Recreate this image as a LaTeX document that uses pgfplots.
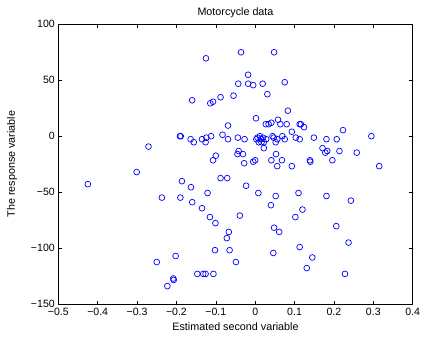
\documentclass[border=0pt]{standalone}
\usepackage{fontspec}
\setmainfont{Liberation Sans}
\usepackage{pgfplots}
\pgfplotsset{compat=1.18}
\begin{document}
\begin{tikzpicture}
\useasboundingbox (-58.3bp,-34bp) rectangle (365.7bp,304bp);
\begin{axis}[
  scale only axis, width=354.4bp, height=279.7bp,
  xmin=-0.5, xmax=0.4, ymin=-150, ymax=100,
  xtick={-0.5,-0.4,-0.3,-0.2,-0.1,0,0.1,0.2,0.3,0.4},
  xticklabels={−0.5,−0.4,−0.3,−0.2,−0.1,0,0.1,0.2,0.3,0.4},
  ytick={-150,-100,-50,0,50,100},
  yticklabels={−150,−100,−50,0,50,100},
  tick align=inside, major tick length=3.5bp,
  axis line style={line width=0.6bp},
  every tick/.style={black, line width=0.5bp},
  tick label style={font=\fontsize{10.6}{12}\selectfont},
  xticklabel style={yshift=-0.5bp},
  every axis title/.style={at={(axis description cs:0.5,1)}, anchor=center, yshift=11.8bp, font=\fontsize{10.8}{12}\selectfont},
  every axis x label/.style={at={(axis description cs:0.5,0)}, anchor=center, yshift=-22.7bp, font=\fontsize{10.8}{12}\selectfont},
  every axis y label/.style={at={(axis description cs:0,0.5)}, anchor=center, rotate=90, yshift=46.3bp, font=\fontsize{10.8}{12}\selectfont},
  title={Motorcycle data},
  xlabel={Estimated second variable},
  ylabel={The response variable},
]
\addplot[only marks, mark=o, color=blue, mark size=2.9bp, mark options={line width=0.7bp}] table {
x y
-0.125 69.6
-0.036 75.0
0.048 75.0
-0.018 54.9
-0.043 46.9
-0.018 46.9
-0.005 45.6
0.019 46.9
0.075 48.2
0.031 37.5
-0.055 36.2
-0.088 34.8
-0.114 29.4
-0.107 30.8
-0.160 32.1
0.083 22.8
0.002 16.0
-0.069 9.5
0.058 14.7
0.027 10.7
0.034 10.7
0.041 12.0
0.064 10.7
0.080 10.7
0.113 10.7
0.116 10.7
0.124 8.1
0.093 4.0
0.223 5.4
-0.083 1.3
-0.191 0
-0.189 0
-0.112 0
0.044 0
0.069 0
0.295 0
-0.124 -1.3
-0.044 -1.3
0.047 -1.3
0.103 -1.3
0.149 -1.3
-0.164 -2.7
-0.135 -2.7
-0.069 -2.7
-0.027 -2.7
0.056 -2.7
0.075 -2.7
0.113 -2.7
0.181 -2.7
0.207 -2.7
-0.156 -5.4
-0.126 -5.4
0.003 -2.7
0.009 -5.4
0.012 0.0
0.016 -2.7
0.022 -5.4
0.016 -5.4
0.028 -2.7
0.052 -5.4
0.006 -1.3
0.020 -1.3
-0.271 -9.3
0.022 -10.7
0.171 -10.7
-0.042 -13.3
0.183 -13.3
0.214 -13.3
0.178 -14.7
0.258 -14.7
-0.045 -16.0
-0.031 -16.0
0.053 -16.0
-0.100 -17.4
-0.107 -21.5
0.000 -21.5
0.041 -21.5
0.068 -21.5
0.139 -21.5
0.196 -21.5
-0.005 -22.8
0.140 -22.8
-0.028 -24.2
0.056 -26.8
0.093 -26.8
0.315 -26.8
-0.301 -32.1
-0.088 -37.5
-0.071 -37.5
-0.186 -40.2
-0.425 -42.9
-0.023 -44.3
-0.163 -45.6
-0.121 -50.8
0.008 -50.8
0.110 -50.8
0.052 -53.5
0.181 -53.5
-0.237 -54.9
-0.190 -54.9
0.243 -57.6
-0.160 -59.0
0.040 -61.7
-0.135 -64.4
0.120 -65.6
-0.039 -71.0
-0.115 -72.3
0.102 -72.3
-0.101 -77.7
0.206 -80.4
0.048 -81.8
0.061 -85.6
-0.067 -85.6
-0.072 -91.1
0.237 -95.1
0.113 -99.1
-0.102 -101.9
-0.065 -101.9
0.046 -104.4
-0.202 -107.1
0.145 -108.4
-0.049 -112.5
-0.250 -112.5
0.131 -117.9
-0.147 -123.1
-0.132 -123.1
-0.126 -123.1
-0.106 -123.1
0.228 -123.1
-0.208 -127.2
-0.207 -128.5
-0.223 -134.0
};
\end{axis}
\end{tikzpicture}
\end{document}
